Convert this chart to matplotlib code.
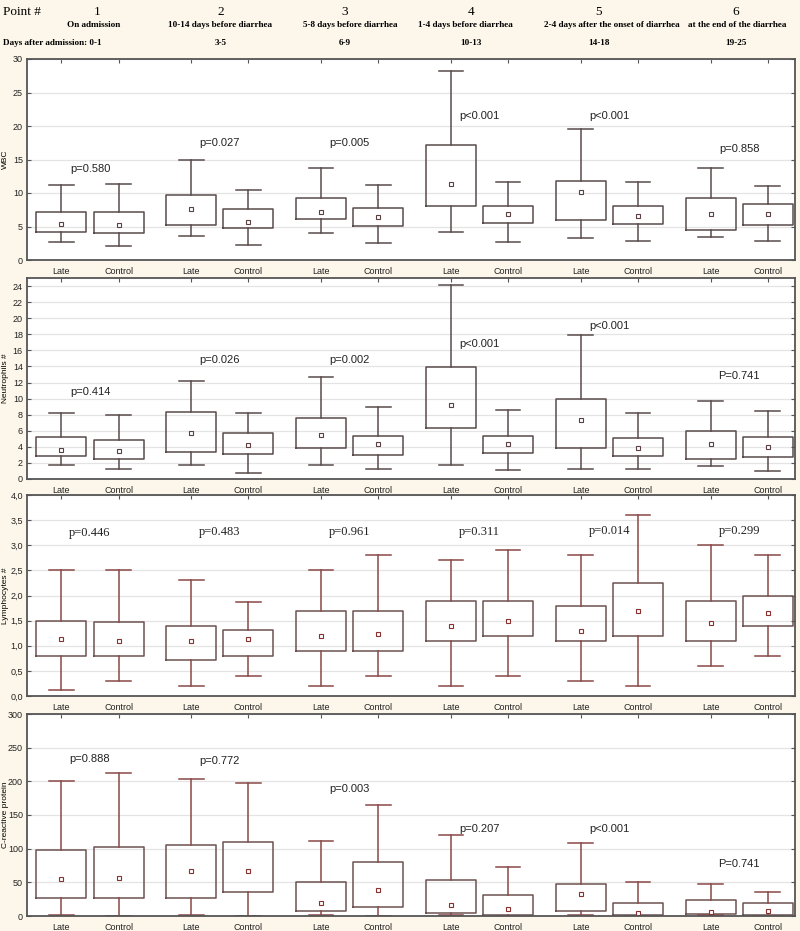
import numpy as np
import matplotlib.pyplot as plt

# header rows
points = ['1', '2', '3', '4', '5', '6']
phases = ['On admission', '10-14 days before diarrhea', '5-8 days before diarrhea',
          '1-4 days before diarrhea', '2-4 days after the onset of diarrhea',
          'at the end of the diarrhea']
days = ['0-1', '3-5', '6-9', '10-13', '14-18', '19-25']
groups = ['Late', 'Control']

# each row: whisker low, box low, mean, box high, whisker high (one row per point)
wbc_late = [[2.7, 4.2, 5.3, 7.1, 11.2], [3.6, 5.2, 7.6, 9.7, 14.9], [4.0, 6.1, 7.1, 9.2, 13.7],
            [4.2, 8.0, 11.4, 17.1, 28.2], [3.3, 5.9, 10.1, 11.8, 19.6], [3.5, 4.5, 6.9, 9.3, 13.8]]
wbc_ctrl = [[2.1, 4.0, 5.2, 7.1, 11.3], [2.2, 4.8, 5.6, 7.6, 10.5], [2.6, 5.1, 6.4, 7.7, 11.2],
            [2.7, 5.5, 6.9, 8.1, 11.6], [2.8, 5.3, 6.6, 8.0, 11.6], [2.9, 5.2, 6.9, 8.3, 11.1]]
neu_late = [[1.7, 2.85, 3.55, 5.25, 8.2], [1.7, 3.35, 5.75, 8.3, 12.2], [1.7, 3.8, 5.45, 7.55, 12.7],
            [1.8, 6.3, 9.15, 13.9, 24.1], [1.3, 3.85, 7.4, 10.0, 17.9], [1.6, 2.5, 4.3, 6.0, 9.65]]
neu_ctrl = [[1.3, 2.5, 3.5, 4.85, 8.0], [0.8, 3.1, 4.2, 5.7, 8.2], [1.3, 3.0, 4.4, 5.4, 9.0],
            [1.1, 3.2, 4.3, 5.4, 8.6], [1.3, 2.85, 3.8, 5.05, 8.15], [1.05, 2.7, 4.0, 5.25, 8.4]]
lym_late = [[0.12, 0.8, 1.13, 1.5, 2.5], [0.2, 0.72, 1.1, 1.4, 2.3], [0.2, 0.9, 1.2, 1.7, 2.5],
            [0.2, 1.1, 1.4, 1.9, 2.7], [0.3, 1.1, 1.3, 1.8, 2.8], [0.6, 1.1, 1.45, 1.9, 3.0]]
lym_ctrl = [[0.3, 0.8, 1.1, 1.48, 2.5], [0.4, 0.8, 1.13, 1.32, 1.88], [0.4, 0.9, 1.23, 1.7, 2.8],
            [0.4, 1.2, 1.5, 1.9, 2.9], [0.2, 1.2, 1.7, 2.25, 3.6], [0.8, 1.4, 1.65, 2.0, 2.8]]
crp_late = [[1, 26, 55, 98, 200], [1, 26, 67, 106, 204], [1, 7, 19, 50, 112],
            [1, 5, 16, 54, 121], [1, 8, 32, 48, 109], [1, 3, 6, 24, 48]]
crp_ctrl = [[0, 27, 56, 102, 213], [0, 35, 67, 110, 198], [0, 13, 38, 80, 165],
            [0, 2, 10, 31, 73], [0, 1, 4, 20, 50], [0, 1, 8, 20, 36]]

# p-values and the height they are written at
wbc_p = ['p=0.580', 'p=0.027', 'p=0.005', 'p<0.001', 'p<0.001', 'p=0.858']
wbc_p_y = [13.6, 17.5, 17.5, 21.5, 21.5, 16.6]
neu_p = ['p=0.414', 'p=0.026', 'p=0.002', 'p<0.001', 'p<0.001', 'P=0.741']
neu_p_y = [10.85, 14.8, 14.8, 16.8, 19.0, 12.85]
lym_p = ['p=0.446', 'p=0.483', 'p=0.961', 'p=0.311', 'p=0.014', 'p=0.299']
lym_p_y = [3.24, 3.26, 3.26, 3.26, 3.28, 3.28]
crp_p = ['p=0.888', 'p=0.772', 'p=0.003', 'p=0.207', 'p<0.001', 'P=0.741']
crp_p_y = [233, 230, 189, 129, 129, 77]

W, H = 800, 931
bg = '#fcf7ea'
fig = plt.figure(figsize=(W / 100, H / 100), dpi=100, facecolor=bg)


def px(x, y):
    return x / W, 1 - y / H


# header
fig.text(*px(3, 12), 'Point #', family='Liberation Serif', fontsize=9.5, va='center')
pt_x = [97, 221, 345, 471, 599, 736]
ph_x = [94, 220, 350, 465, 612, 737]
for i in range(6):
    fig.text(*px(pt_x[i], 12), points[i], family='Liberation Serif', fontsize=9.5,
             ha='center', va='center')
    fig.text(*px(ph_x[i], 25), phases[i], family='Liberation Serif', fontsize=6.6,
             fontweight='bold', ha='center', va='center')
fig.text(*px(3, 43), 'Days after admission: ' + days[0], family='Liberation Serif',
         fontsize=6.6, fontweight='bold', va='center')
for i in range(1, 6):
    fig.text(*px(pt_x[i], 43), days[i], family='Liberation Serif', fontsize=6.6,
             fontweight='bold', ha='center', va='center')

panels = [
    (wbc_late, wbc_ctrl, wbc_p, wbc_p_y, 'WBC', (0, 30), np.arange(0, 31, 5), None,
     59, 260, 'sans'),
    (neu_late, neu_ctrl, neu_p, neu_p_y, 'Neutrophils #', (0, 25), np.arange(0, 25, 2), None,
     278, 479, 'sans'),
    (lym_late, lym_ctrl, lym_p, lym_p_y, 'Lymphocytes #', (0, 4), np.arange(0, 4.01, 0.5), 'comma',
     495, 696, 'serif'),
    (crp_late, crp_ctrl, crp_p, crp_p_y, 'C-reactive protein', (0, 300), np.arange(0, 301, 50), None,
     714, 916, 'sans'),
]

xs = np.arange(1, 7)
off = 0.22
for k, (late, ctrl, plabs, py, ylab, ylim, yt, fmt, top, bot, pfont) in enumerate(panels):
    ax = fig.add_axes([27 / W, 1 - bot / H, 768 / W, (bot - top) / H])
    ax.set_facecolor('white')
    if k < 2:
        boxc, whc, mc = '#5a4b4b', '#5a4b4b', '#5a4040'
    else:
        boxc, whc, mc = '#6e5252', '#8a4848', '#8a3030'
    stats, pos, labs = [], [], []
    for i in range(6):
        for rows, g, dx in ((late, 'Late', -off), (ctrl, 'Control', off)):
            lo, q1, m, q3, hi = rows[i]
            stats.append(dict(whislo=lo, q1=q1, med=m, mean=m, q3=q3, whishi=hi, fliers=[]))
            pos.append(xs[i] + dx)
            labs.append(g)
    ax.bxp(stats, positions=pos, widths=0.385, capwidths=0.19, showmeans=True,
           showfliers=False, manage_ticks=False,
           boxprops=dict(color=boxc, lw=1.1),
           whiskerprops=dict(color=whc, lw=1.1),
           capprops=dict(color=whc, lw=1.1),
           medianprops=dict(linewidth=0),
           meanprops=dict(marker='s', markersize=3.2, markerfacecolor='white',
                          markeredgecolor=mc, markeredgewidth=0.8))
    for i in range(6):
        if pfont == 'serif':
            ax.text(xs[i], py[i], plabs[i], family='Liberation Serif', fontsize=9,
                    ha='center', va='center', color='#222222')
        else:
            ax.text(xs[i], py[i], plabs[i], family='Liberation Sans', fontsize=8,
                    ha='center', va='center', color='#222222')
    ax.set_xlim(0.515, 6.43)
    ax.set_ylim(*ylim)
    ax.set_yticks(yt)
    if fmt == 'comma':
        ax.set_yticklabels([('%.1f' % v).replace('.', ',') for v in yt])
    else:
        ax.set_yticklabels(['%d' % v for v in yt])
    ax.set_xticks(pos)
    ax.set_xticklabels(labs)
    ax.grid(axis='y', color='#e4e4e4', lw=0.9)
    ax.set_axisbelow(True)
    for s in ax.spines.values():
        s.set_color('#555555')
        s.set_linewidth(1.3)
    ax.tick_params(axis='x', top=True, bottom=False, direction='in', length=3,
                   labelsize=6.5, pad=5, color='#555555')
    ax.tick_params(axis='y', right=True, left=True, direction='in', length=3,
                   labelsize=6.5, pad=3, color='#555555')
    for t in ax.get_xticklabels() + ax.get_yticklabels():
        t.set_family('Liberation Sans')
        t.set_color('#222222')
    ax.set_ylabel(ylab, fontsize=6, family='Liberation Sans')
    ax.yaxis.set_label_coords((9 - 27) / 768, 0.5)

fig.savefig('out.png', dpi=100, facecolor=bg)
